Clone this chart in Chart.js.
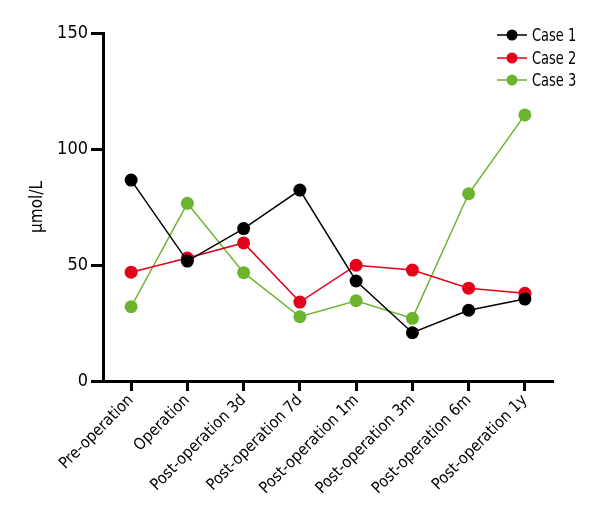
<!DOCTYPE html>
<html>
<head>
<meta charset="utf-8">
<script src="https://cdn.jsdelivr.net/npm/chart.js@4.4.1/dist/chart.umd.min.js"></script>
<style>
  html, body { margin: 0; padding: 0; background: #fff; }
  #wrap { position: relative; width: 600px; height: 520px; }
  #legend { position: absolute; left: 497px; top: 24px; font-family: "Liberation Sans Narrow", "DejaVu Sans Condensed", sans-serif; font-size: 17px; color: #000; }
  .item { display: flex; align-items: center; height: 22.5px; }
  .item canvas { margin-right: 5px; }
  .item span { display: inline-block; transform: scaleX(0.85); transform-origin: left center; }
</style>
</head>
<body>
<div id="wrap">
  <canvas id="chart" width="600" height="520"></canvas>
  <div id="legend"></div>
</div>
<script>
// values
const labels = [
    "Pre-operation",
    "Operation",
    "Post-operation 3d",
    "Post-operation 7d",
    "Post-operation 1m",
    "Post-operation 3m",
    "Post-operation 6m",
    "Post-operation 1y"
];
const case1 = [86.6, 51.7, 65.7, 82.3, 43.1, 20.8, 30.5, 35.3];
const case2 = [46.9, 53, 59.5, 34, 49.9, 47.8, 40, 37.8];
const case3 = [32, 76.6, 46.7, 27.7, 34.6, 27, 80.7, 114.7];
const yTicks = [0, 50, 100, 150];

const FONT = '"Liberation Sans Narrow", "DejaVu Sans Condensed", sans-serif';

const series = [
    { label: "Case 1", values: case1, color: "#000000" },
    { label: "Case 2", values: case2, color: "#e5001a" },
    { label: "Case 3", values: case3, color: "#6cb42e" }
];

const datasets = series.map(function (s) {
    return {
        label: s.label,
        data: s.values,
        borderColor: s.color,
        backgroundColor: s.color,
        pointBackgroundColor: s.color,
        pointBorderWidth: 0,
        pointRadius: 6.5,
        borderWidth: 1.5,
        tension: 0
    };
});

// legend: little line + dot swatch, then the name
const legend = document.getElementById("legend");
series.forEach(function (s) {
    const row = document.createElement("div");
    row.className = "item";
    const c = document.createElement("canvas");
    c.width = 30; c.height = 14;
    const g = c.getContext("2d");
    g.strokeStyle = s.color; g.lineWidth = 1.5;
    g.beginPath(); g.moveTo(0, 7); g.lineTo(30, 7); g.stroke();
    g.fillStyle = s.color;
    g.beginPath(); g.arc(15, 7, 5.5, 0, Math.PI * 2); g.fill();
    row.appendChild(c);
    const t = document.createElement("span");
    t.textContent = s.label;
    row.appendChild(t);
    legend.appendChild(row);
});

const config = {
    type: "line",
    data: { labels: labels, datasets: datasets },
    options: {
        responsive: false,
        animation: false,
        layout: { padding: { left: 20, top: 33, right: 47, bottom: 0 } },
        plugins: { legend: { display: false }, tooltip: { enabled: false } },
        scales: {
            x: {
                offset: true,
                afterFit: function (scale) { scale.height = 139; },
                border: { display: true, width: 3, color: "#000" },
                grid: { display: true, drawOnChartArea: false, offset: false, tickLength: 10, tickWidth: 3, tickColor: "#000" },
                ticks: {
                    color: "#000",
                    font: { family: FONT, size: 16 },
                    maxRotation: 45,
                    minRotation: 45,
                    padding: 0,
                    autoSkip: false
                }
            },
            y: {
                min: 0,
                max: 150,
                afterFit: function (scale) { scale.width = 83; },
                afterBuildTicks: function (scale) {
                    scale.ticks = yTicks.map(function (v) { return { value: v }; });
                },
                border: { display: true, width: 3, color: "#000" },
                grid: { display: true, drawOnChartArea: false, tickLength: 12, tickWidth: 3, tickColor: "#000" },
                ticks: {
                    color: "#000",
                    font: { family: FONT, size: 18 },
                    padding: 3
                },
                title: {
                    display: true,
                    text: "μmol/L",
                    color: "#000",
                    font: { family: FONT, size: 17 },
                    padding: { top: 7, bottom: 0 }
                }
            }
        }
    }
};

new Chart(document.getElementById("chart"), config);
</script>
</body>
</html>
